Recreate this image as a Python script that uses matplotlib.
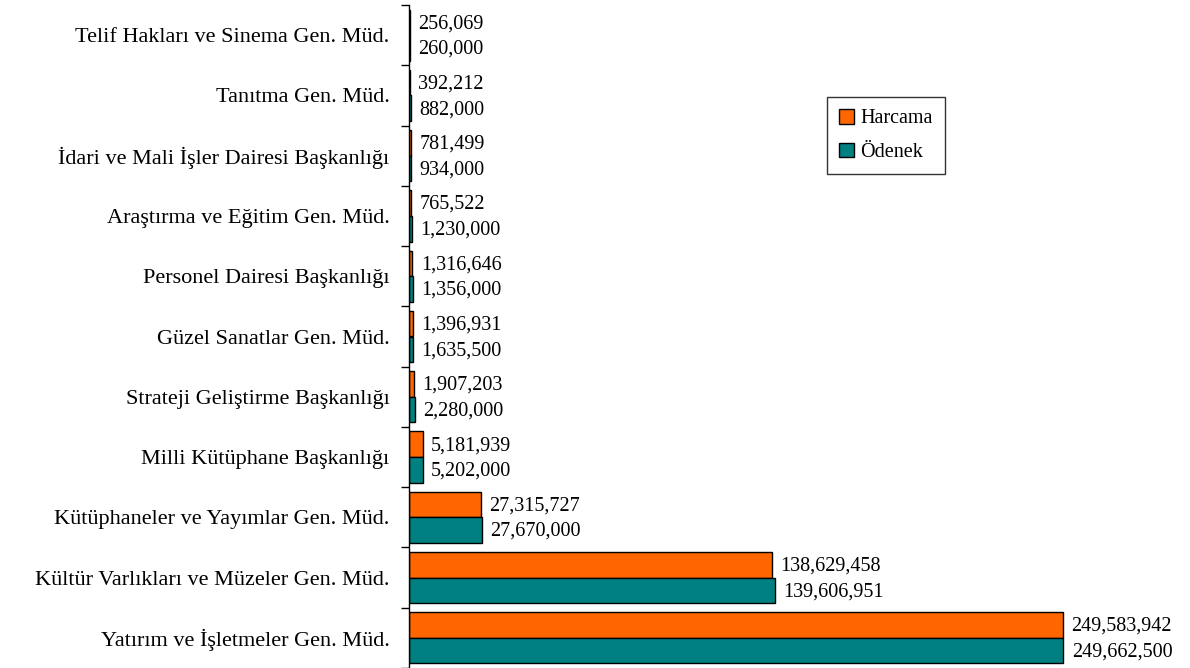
import matplotlib
matplotlib.use("Agg")
import matplotlib.pyplot as plt
import numpy as np

# veriler (üstten alta)
kategoriler = [
    "Telif Hakları ve Sinema Gen. Müd.",
    "Tanıtma Gen. Müd.",
    "İdari ve Mali İşler Dairesi Başkanlığı",
    "Araştırma ve Eğitim Gen. Müd.",
    "Personel Dairesi Başkanlığı",
    "Güzel Sanatlar Gen. Müd.",
    "Strateji Geliştirme Başkanlığı",
    "Milli Kütüphane Başkanlığı",
    "Kütüphaneler ve Yayımlar Gen. Müd.",
    "Kültür Varlıkları ve Müzeler Gen. Müd.",
    "Yatırım ve İşletmeler Gen. Müd.",
]
harcama = [256069, 392212, 781499, 765522, 1316646, 1396931, 1907203,
           5181939, 27315727, 138629458, 249583942]
odenek = [260000, 882000, 934000, 1230000, 1356000, 1635500, 2280000,
          5202000, 27670000, 139606951, 249662500]

plt.rcParams['font.family'] = ['Liberation Serif', 'DejaVu Serif']

fig = plt.figure(figsize=(11.9, 6.68), dpi=100)
ax = fig.add_axes([409 / 1190, 0.0, 1 - 409 / 1190, 1 - 5 / 668])

n = len(kategoriler)
y = np.arange(n)  # 0 = üst
h = 0.425

b1 = ax.barh(y - h / 2, harcama, height=h, color="#FF6600",
             edgecolor="black", linewidth=1, label="Harcama")
b2 = ax.barh(y + h / 2, odenek, height=h, color="#008080",
             edgecolor="black", linewidth=1, label="Ödenek")

for bars, vals in ((b1, harcama), (b2, odenek)):
    for bar, v in zip(bars, vals):
        ax.annotate(f"{v:,}", (v, bar.get_y() + bar.get_height() / 2),
                    xytext=(6, -1), textcoords="offset points",
                    va="center", ha="left", fontsize=14.5)

ax.set_xlim(0, 298e6)
ax.set_ylim(n - 0.5, -0.5)

ax.set_yticks(y)
ax.set_yticklabels(kategoriler, fontsize=16)
ax.tick_params(axis="y", which="major", length=0, pad=14)
ax.set_yticks(np.arange(n + 1) - 0.5, minor=True)
ax.tick_params(axis="y", which="minor", length=6, width=1, direction="out")
ax.set_xticks([])

for s in ("top", "right", "bottom"):
    ax.spines[s].set_visible(False)
ax.spines["left"].set_linewidth(1)

leg = ax.legend(loc="upper left", bbox_to_anchor=((827 - 409) / 781, 1 - 92 / 663),
                fontsize=14.5, frameon=True, fancybox=False, handlelength=0.75,
                handleheight=0.75, handletextpad=0.3, labelspacing=0.7,
                borderpad=0.6, borderaxespad=0)
leg.get_frame().set_edgecolor("black")
leg.get_frame().set_linewidth(1)

fig.savefig("out.png", dpi=100)
